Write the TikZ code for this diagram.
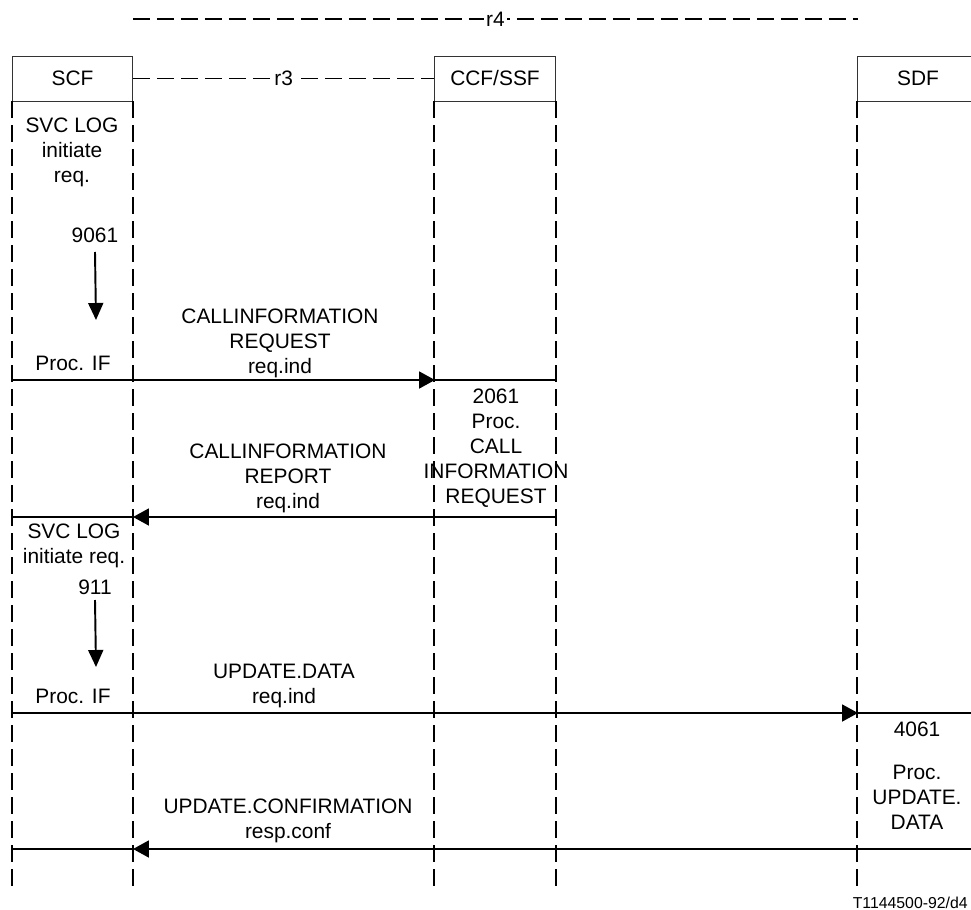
\documentclass[tikz,border=0pt]{standalone}
\usepackage{fontspec}
\setmainfont{Liberation Sans}
\usetikzlibrary{arrows.meta, positioning}

\begin{document}
\begin{tikzpicture}[x=0.02cm, y=-0.02cm,
  every node/.style={font=\fontsize{11.9}{14.2}\selectfont, align=center, inner sep=0pt},
  head/.style={draw=black!80, line width=0.5pt, minimum width=2.41cm,
               minimum height=0.9cm},
  life/.style={line width=1.1pt, dash pattern=on 0.34cm off 0.14cm},
  link/.style={line width=1.1pt, dash pattern=on 0.34cm off 0.14cm},
  msg/.style={line width=1.1pt},
  tip/.style={-{Triangle[length=0.32cm, width=0.34cm]}},
]
\useasboundingbox (0,0) rectangle (971,910);

% Functional entities
\node[head] (scf) at (72.5,78.5) {SCF};
\node[head] (ccf) at (495,78.5) {CCF/SSF};
\node[head] (sdf) at (918,78.5) {SDF};

% Lifelines
\foreach \a in {scf.south west, scf.south east, ccf.south west, ccf.south east, sdf.south west}
  \draw[life] (\a) -- ++(0,786);

% Relationships
\coordinate (r4s) at (133,19);
\coordinate (r4e) at (858,19);
\draw[link] (r4s) -- node[fill=white, inner xsep=1pt] {r4} (r4e);
\draw[link] (scf.east) -- node[fill=white, inner xsep=1pt] {r3} (ccf.west);

% Message rows
\foreach \y/\n in {380/a, 517/b, 713/c, 849/d} {
  \coordinate (\n0) at (12,\y);
  \coordinate (\n1) at (133,\y);
  \coordinate (\n2) at (435,\y);
  \coordinate (\n3) at (555,\y);
  \coordinate (\n4) at (858,\y);
  \coordinate (\n5) at (975,\y);
}

% SCF actions
\node (svc1) at (72,152) {SVC LOG\\initiate\\req.};
\node (fe1) at (95,235) {9061};
\coordinate (dn1) at (96,320);
\draw[msg, -{Triangle[length=0.34cm, width=0.3cm]}] ([yshift=-0.34cm]fe1.center) -- (dn1);
\node (pif1) at (73,363) {Proc. IF};

\node (svc2) at (74,546) {SVC LOG\\initiate req.};
\node (fe2) at (95,587) {911};
\coordinate (dn2) at (96,667);
\draw[msg, -{Triangle[length=0.34cm, width=0.3cm]}] ([yshift=-0.26cm]fe2.center) -- (dn2);
\node (pif2) at (73,696) {Proc. IF};

% CCF/SSF action
\node (fe3) at (496,448) {2061\\Proc.\\CALL\\INFORMATION\\REQUEST};

% SDF action
\node (fe4) at (917,729) {4061};
\node[below=0.56cm of fe4] (pud) {Proc.\\UPDATE.\\DATA};

% Messages
\draw[msg, tip] (a0) -- (a2);
\draw[msg] (a2) -- (a3);
\node (m1) at (280,343) {CALLINFORMATION\\REQUEST\\req.ind};

\draw[msg, tip] (b3) -- (b1);
\draw[msg] (b1) -- (b0);
\node (m2) at (288,478) {CALLINFORMATION\\REPORT\\req.ind};

\draw[msg, tip] (c0) -- (c4);
\draw[msg] (c4) -- (c5);
\node (m3) at (284,686) {UPDATE.DATA\\req.ind};

\draw[msg, tip] (d5) -- (d1);
\draw[msg] (d1) -- (d0);
\node (m4) at (288,821) {UPDATE.CONFIRMATION\\resp.conf};

% Figure reference
\node[font=\fontsize{9}{11}\selectfont, anchor=east] (ref) at (968,903) {T1144500-92/d4};
\end{tikzpicture}
\end{document}
